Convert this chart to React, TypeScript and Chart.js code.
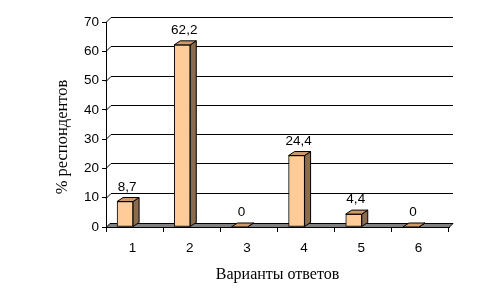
import React, { useEffect, useRef } from "react";
import { Chart, registerables } from "chart.js";

Chart.register(...registerables);

const categories: string[] = ["1", "2", "3", "4", "5", "6"];
const values: number[] = [8.7, 62.2, 0, 24.4, 4.4, 0];
const yTicks: number[] = [0, 10, 20, 30, 40, 50, 60, 70];
const xTitle = "Варианты ответов";
const yTitle = "% респондентов";

const WALL_DX = 5;
const WALL_DY = 5;
const FLOOR_D = 4;
const BAR_DX = 6;
const BAR_DY = 4;
const BAR_SHIFT = -9.5;

const FRONT = "#FFCC99";
const TOP = "#CC9A6A";
const SIDE = "#8A6B4B";
const FLOOR = "#808080";

const fmt = (v: number) => String(v).replace(".", ",");

const plugin3d = {
  id: "fake3d",
  beforeDatasetsDraw(chart: any) {
    const { ctx, chartArea, scales } = chart;
    const y = scales.y;
    const L = chartArea.left;
    const R = chartArea.right;
    ctx.save();
    ctx.strokeStyle = "#000";
    ctx.lineWidth = 1;
    for (const t of yTicks) {
      if (t === 0) continue;
      const py = Math.round(y.getPixelForValue(t)) + 0.5;
      ctx.beginPath();
      ctx.moveTo(L, py);
      ctx.lineTo(L + WALL_DX, py - WALL_DY);
      ctx.lineTo(R + FLOOR_D, py - WALL_DY);
      ctx.stroke();
    }
    const p0 = Math.round(y.getPixelForValue(0)) + 0.5;
    ctx.fillStyle = FLOOR;
    ctx.beginPath();
    ctx.moveTo(L, p0);
    ctx.lineTo(R, p0);
    ctx.lineTo(R + FLOOR_D, p0 - FLOOR_D);
    ctx.lineTo(L + FLOOR_D, p0 - FLOOR_D);
    ctx.closePath();
    ctx.fill();
    ctx.stroke();
    ctx.restore();
    ctx.save();
    ctx.translate(BAR_SHIFT, 0);
  },
  afterDatasetsDraw(chart: any) {
    const ctx = chart.ctx;
    const meta = chart.getDatasetMeta(0);
    ctx.lineWidth = 1;
    ctx.strokeStyle = "#000";
    meta.data.forEach((bar: any) => {
      const { x, y, base, width } = bar.getProps(["x", "y", "base", "width"], true);
      const xl = x - width / 2;
      const xr = x + width / 2;
      ctx.fillStyle = SIDE;
      ctx.beginPath();
      ctx.moveTo(xr, y);
      ctx.lineTo(xr + BAR_DX, y - BAR_DY);
      ctx.lineTo(xr + BAR_DX, base - BAR_DY);
      ctx.lineTo(xr, base);
      ctx.closePath();
      ctx.fill();
      ctx.stroke();
      ctx.fillStyle = TOP;
      ctx.beginPath();
      ctx.moveTo(xl, y);
      ctx.lineTo(xr, y);
      ctx.lineTo(xr + BAR_DX, y - BAR_DY);
      ctx.lineTo(xl + BAR_DX, y - BAR_DY);
      ctx.closePath();
      ctx.fill();
      ctx.stroke();
    });
    ctx.restore();
    ctx.save();
    ctx.fillStyle = "#000";
    ctx.font = "13.5px 'Liberation Sans', Arial, sans-serif";
    ctx.textAlign = "center";
    ctx.textBaseline = "alphabetic";
    meta.data.forEach((bar: any, i: number) => {
      const { x, y } = bar.getProps(["x", "y"], true);
      ctx.fillText(fmt(values[i]), x + BAR_SHIFT + 2, y - 11);
    });
    ctx.restore();
  },
  afterDraw(chart: any) {
    const ctx = chart.ctx;
    ctx.save();
    ctx.fillStyle = "#000";
    ctx.font = "16.5px 'Liberation Serif', 'Times New Roman', serif";
    ctx.textAlign = "center";
    ctx.textBaseline = "middle";
    ctx.translate(63, 137);
    ctx.rotate(-Math.PI / 2);
    ctx.fillText(yTitle, 0, 0);
    ctx.restore();
  },
};

export default function App() {
  const ref = useRef<HTMLCanvasElement | null>(null);
  useEffect(() => {
    if (!ref.current) return;
    const chart = new Chart(ref.current, {
      type: "bar",
      data: {
        labels: categories,
        datasets: [
          {
            data: values,
            backgroundColor: FRONT,
            borderColor: "#000",
            borderWidth: 1,
            borderSkipped: false,
            barThickness: 16,
          },
        ],
      },
      options: {
        animation: false,
        responsive: false,
        events: [],
        layout: { padding: { left: 0, top: 22, right: 51, bottom: 0 } },
        plugins: { legend: { display: false }, tooltip: { enabled: false } },
        scales: {
          x: {
            grid: {
              display: true,
              drawOnChartArea: false,
              drawTicks: true,
              tickLength: 5,
              color: "#000",
              offset: true,
            },
            border: { display: true, color: "#000" },
            ticks: {
              color: "#000",
              font: { family: "'Liberation Sans', Arial, sans-serif", size: 13.5 },
              padding: 8,
              labelOffset: -2,
              maxRotation: 0,
            },
            title: {
              display: true,
              text: xTitle,
              color: "#000",
              font: { family: "'Liberation Serif', 'Times New Roman', serif", size: 16 },
              padding: { top: 0, bottom: 16 },
            },
            afterFit(scale: any) {
              scale.height = 73;
            },
          },
          y: {
            min: 0,
            max: 70,
            grid: {
              display: true,
              drawOnChartArea: false,
              drawTicks: true,
              tickLength: 4,
              color: "#000",
            },
            border: { display: true, color: "#000" },
            ticks: {
              stepSize: 10,
              color: "#000",
              padding: 3,
              font: { family: "'Liberation Sans', Arial, sans-serif", size: 13.5 },
            },
            afterFit(scale: any) {
              scale.width = 106;
            },
          },
        },
      },
      plugins: [plugin3d],
    });
    return () => chart.destroy();
  }, []);
  return (
    <div style={{ position: "fixed", left: 0, top: 0, width: 500, height: 300, background: "#fff" }}>
      <canvas ref={ref} width={500} height={300} />
    </div>
  );
}
